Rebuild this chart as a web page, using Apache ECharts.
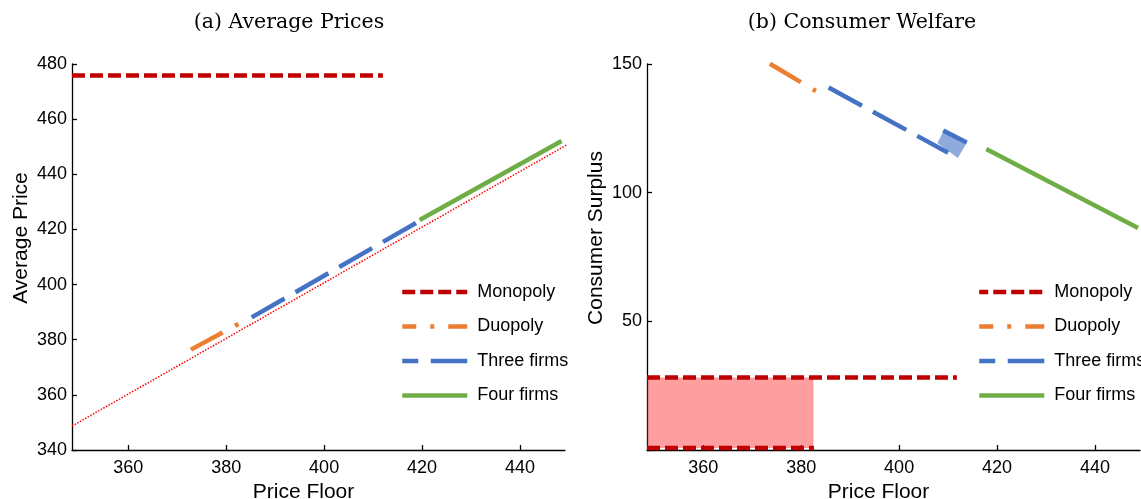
<!DOCTYPE html>
<html>
<head>
<meta charset="utf-8">
<script src="https://cdn.jsdelivr.net/npm/echarts@6/dist/echarts.min.js"></script>
<style>
  html, body { margin: 0; padding: 0; background: #fff; }
  #chart { width: 1141px; height: 499px; }
</style>
</head>
<body>
<div id="chart"></div>
<script>
// Shared x axis (price floor)
const floorTicks = [360, 380, 400, 420, 440];
const floorMin = 348.5;
const floorMax = 449.2;

// Panel (a): average prices
const priceTicks = [340, 360, 380, 400, 420, 440, 460, 480];
const monoPriceX = [348.5, 412.0];
const monoPriceY = [475.8, 475.8];
const duoPriceX = [372.8, 383.0];
const duoPriceY = [376.4, 386.2];
const threePriceX = [385.2, 419.5];
const threePriceY = [388.1, 423.1];
const fourPriceX = [419.5, 448.5];
const fourPriceY = [423.4, 452.1];
const floorLineX = [348.5, 450.4];
const floorLineY = [348.7, 451.5];

// Panel (b): consumer surplus
const surplusTicks = [0, 50, 100, 150];
const monoCSX = [348.5, 411.8];
const monoCSY = [28.2, 28.2];
const monoCSLowX = [348.5, 382.6];
const monoCSLowY = [0.8, 0.8];
const monoBandX = [348.5, 382.5];
const monoBandLow = [0.8, 0.8];
const monoBandHigh = [28.2, 28.2];
const duoCSX = [373.6, 383.0];
const duoCSY = [150.1, 139.5];
const threeCSX = [385.6, 410.0];
const threeCSY = [140.9, 115.5];
const threeCSUpX = [409.0, 413.8];
const threeCSUpY = [124.2, 119.5];
const threeBandX = [409.2, 413.96, 412.0, 407.8];
const threeBandY = [124.4, 119.9, 113.5, 119.3];
const fourCSX = [417.8, 448.8];
const fourCSY = [117.0, 86.3];

const names = ['Monopoly', 'Duopoly', 'Three firms', 'Four firms'];
const colors = {
  'Monopoly': '#C00000',
  'Duopoly': '#ED7D31',
  'Three firms': '#4472C4',
  'Four firms': '#70AD47'
};
const dashes = {
  'Monopoly': [13, 5],
  'Duopoly': [36, 14, 4, 14],
  'Three firms': [38, 12.5],
  'Four firms': 'solid'
};
const LW = 4.5;

const zip = (xs, ys) => xs.map((x, i) => [x, ys[i]]);

function lineSeries(name, xs, ys, idx, extra) {
  return Object.assign({
    type: 'line',
    name: name,
    xAxisIndex: idx,
    yAxisIndex: idx,
    data: zip(xs, ys),
    symbol: 'none',
    silent: true,
    animation: false,
    lineStyle: { color: colors[name], width: LW, type: dashes[name], cap: 'butt' },
    itemStyle: { color: colors[name] },
    z: 3
  }, extra || {});
}

function polygonSeries(name, xs, ys, idx, fill, z) {
  return {
    type: 'custom',
    name: name,
    xAxisIndex: idx,
    yAxisIndex: idx,
    silent: true,
    animation: false,
    z: z,
    data: [0],
    renderItem: function (params, api) {
      const pts = xs.map((x, i) => api.coord([x, ys[i]]));
      return { type: 'polygon', shape: { points: pts }, style: { fill: fill } };
    }
  };
}

const axisFont = { color: '#000', fontFamily: 'Liberation Sans', fontSize: 18 };
const nameFont = { color: '#000', fontFamily: 'Liberation Sans', fontSize: 21 };
const axisLine = { show: true, lineStyle: { color: '#000', width: 1.3 } };

function xAxisCfg(idx) {
  return {
    type: 'value', gridIndex: idx, min: floorMin, max: floorMax,
    name: 'Price Floor', nameLocation: 'middle', nameGap: 28,
    nameTextStyle: Object.assign({ padding: [0, 30, 0, 0] }, nameFont),
    axisLine: axisLine,
    axisTick: { show: true, inside: true, length: 5, lineStyle: { color: '#000', width: 1.3 }, customValues: floorTicks },
    axisLabel: Object.assign({ margin: 9, customValues: floorTicks }, axisFont),
    splitLine: { show: false }
  };
}

function yAxisCfg(idx, ticks, label, hideZero) {
  return {
    type: 'value', gridIndex: idx,
    min: ticks[0], max: ticks[ticks.length - 1], interval: ticks[1] - ticks[0],
    name: label, nameLocation: 'middle', nameGap: 40, nameRotate: 90,
    nameTextStyle: Object.assign({ padding: [0, 0, 0, 38] }, nameFont),
    axisLine: axisLine,
    axisTick: { show: true, inside: true, length: 5, lineStyle: { color: '#000', width: 1.3 } },
    axisLabel: Object.assign({
      margin: 5,
      formatter: v => (hideZero && v === 0) ? '' : String(v)
    }, axisFont),
    splitLine: { show: false }
  };
}

function legendCfg(left) {
  return {
    left: left, top: 283, orient: 'vertical', padding: 0,
    itemWidth: 65, itemHeight: 17, itemGap: 16.5,
    selectedMode: false,
    itemStyle: { opacity: 0 },
    lineStyle: { width: LW },
    textStyle: { color: '#000', fontFamily: 'Liberation Sans', fontSize: 18, padding: [0, 0, 0, 5] },
    data: names.map(n => (n === 'Duopoly'
      ? { name: n, lineStyle: { width: LW, dashOffset: 22 } }
      : { name: n }))
  };
}

const chart = echarts.init(document.getElementById('chart'), null, { renderer: 'canvas' });

chart.setOption({
  backgroundColor: '#fff',
  animation: false,
  title: [
    { text: '(a) Average Prices', left: 284, top: 7, textAlign: 'center',
      textStyle: { fontFamily: 'DejaVu Serif', fontWeight: 'normal', fontSize: 20.5, color: '#000' } },
    { text: '(b) Consumer Welfare', left: 857, top: 7, textAlign: 'center',
      textStyle: { fontFamily: 'DejaVu Serif', fontWeight: 'normal', fontSize: 20.5, color: '#000' } }
  ],
  legend: [legendCfg(400), legendCfg(977)],
  grid: [
    { left: 72, top: 64, width: 493, height: 386, outerBoundsMode: 'none', containLabel: false },
    { left: 647, top: 64, width: 493, height: 386, outerBoundsMode: 'none', containLabel: false }
  ],
  xAxis: [xAxisCfg(0), xAxisCfg(1)],
  yAxis: [
    yAxisCfg(0, priceTicks, 'Average Price', false),
    yAxisCfg(1, surplusTicks, 'Consumer Surplus', true)
  ],
  series: [
    // panel (a)
    lineSeries('Monopoly', monoPriceX, monoPriceY, 0),
    lineSeries('Duopoly', duoPriceX, duoPriceY, 0),
    lineSeries('Three firms', threePriceX, threePriceY, 0),
    lineSeries('Four firms', fourPriceX, fourPriceY, 0),
    {
      type: 'line', name: 'floor', xAxisIndex: 0, yAxisIndex: 0,
      data: zip(floorLineX, floorLineY), symbol: 'none', silent: true, clip: false,
      lineStyle: { color: '#FF0000', width: 1.5, type: [1.5, 1.5] }, z: 2
    },
    // panel (b)
    polygonSeries('monoBand', monoBandX.concat(monoBandX.slice().reverse()),
      monoBandLow.concat(monoBandHigh.slice().reverse()), 1, 'rgba(255,0,0,0.38)', 1),
    polygonSeries('threeBand', threeBandX, threeBandY, 1, 'rgba(68,114,196,0.6)', 1),
    lineSeries('Monopoly', monoCSX, monoCSY, 1),
    lineSeries('Monopoly', monoCSLowX, monoCSLowY, 1),
    lineSeries('Duopoly', duoCSX, duoCSY, 1),
    lineSeries('Three firms', threeCSX, threeCSY, 1),
    lineSeries('Three firms', threeCSUpX, threeCSUpY, 1, { lineStyle: { color: colors['Three firms'], width: LW, type: 'solid' } }),
    lineSeries('Four firms', fourCSX, fourCSY, 1)
  ]
});
</script>
</body>
</html>
